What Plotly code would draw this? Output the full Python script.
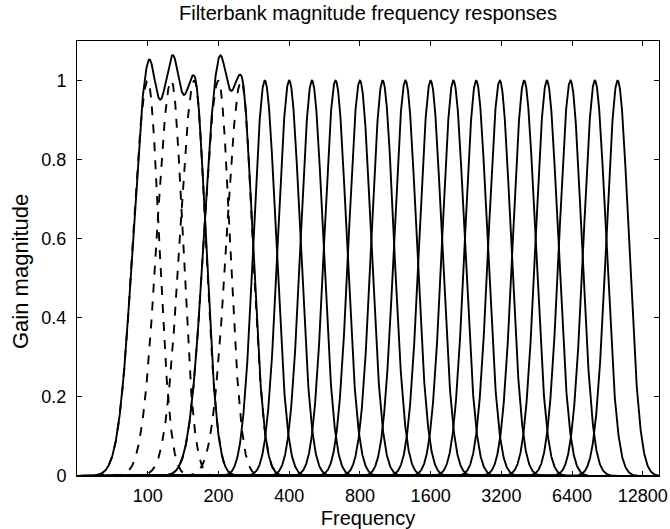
import numpy as np
import plotly.graph_objects as go

# ---- data ----
x_tick_vals = [100, 200, 400, 800, 1600, 3200, 6400, 12800]
x_tick_text = ["100", "200", "400", "800", "1600", "3200", "6400", "12800"]
y_tick_vals = [0, 0.2, 0.4, 0.6, 0.8, 1.0]
y_tick_text = ["0", "0.2", "0.4", "0.6", "0.8", "1"]

# centre frequencies (Hz) of the third-octave filters
group1_centers = [100, 126, 158]          # dashed sub-bands combined into the first solid band
group2_centers = [200, 250]               # dashed sub-bands combined into the second solid band
single_centers = [315, 400, 500, 630, 800, 1000, 1250, 1600, 2000,
                  2500, 3150, 4000, 5000, 6300, 8000, 10000]
sub_band_spread_low = 0.205    # octaves, lower skirt of dashed sub-bands
sub_band_spread_high = 0.16    # octaves, upper skirt of dashed sub-bands
band_spread = 0.157            # octaves, single bands
combine_exponent = 1.85        # how the sub-band magnitudes combine into a band

freq_min, freq_max = 50, 15000

# ---- build curves ----
freq = np.logspace(np.log10(freq_min), np.log10(freq_max), 3000)


def response(fc, s_low, s_high):
    d = np.log2(freq / fc)
    s = np.where(d < 0, s_low, s_high)
    return np.exp(-0.5 * (d / s) ** 2)


def combined(centers):
    p = combine_exponent
    tot = sum(response(c, sub_band_spread_low, sub_band_spread_high) ** p for c in centers)
    return tot ** (1.0 / p)


fig = go.Figure()
line_w = 1.9
for centers in (group1_centers, group2_centers):
    for c in centers:
        fig.add_trace(go.Scatter(x=freq, y=response(c, sub_band_spread_low, sub_band_spread_high),
                                 mode="lines",
                                 line=dict(color="black", width=line_w, dash="9px,9px"),
                                 showlegend=False, hoverinfo="skip"))
for centers in (group1_centers, group2_centers):
    fig.add_trace(go.Scatter(x=freq, y=combined(centers), mode="lines",
                             line=dict(color="black", width=line_w),
                             showlegend=False, hoverinfo="skip"))
for c in single_centers:
    fig.add_trace(go.Scatter(x=freq, y=response(c, band_spread, band_spread), mode="lines",
                             line=dict(color="black", width=line_w),
                             showlegend=False, hoverinfo="skip"))

font_family = "Liberation Sans, Arial, Helvetica, sans-serif"
fig.update_layout(
    width=670, height=529,
    margin=dict(l=77, r=11, t=41, b=53, autoexpand=False),
    paper_bgcolor="white", plot_bgcolor="white",
    font=dict(family=font_family, size=18, color="black"),
    title=dict(text="Filterbank magnitude frequency responses", x=0.5, xref="paper",
               y=1 - 13 / 529, yref="container", yanchor="middle", xanchor="center",
               font=dict(size=20, color="black")),
    xaxis=dict(type="log", range=[np.log10(freq_min), np.log10(freq_max)],
               tickvals=x_tick_vals, ticktext=x_tick_text, automargin=False,
               ticks="inside", ticklen=5, tickcolor="black", tickwidth=1,
               showline=True, linecolor="black", linewidth=1, mirror="ticks",
               showgrid=False, zeroline=False, ticklabelstandoff=3,
               title=dict(text="Frequency", font=dict(size=20), standoff=6)),
    yaxis=dict(range=[0, 1.1], tickvals=y_tick_vals, ticktext=y_tick_text, automargin=False,
               ticks="inside", ticklen=5, tickcolor="black", tickwidth=1,
               showline=True, linecolor="black", linewidth=1, mirror="ticks",
               showgrid=False, zeroline=False, ticklabelstandoff=6),
    annotations=[dict(text="Gain magnitude", textangle=-90, showarrow=False,
                      xref="paper", yref="paper", x=(20 - 77) / 582, y=(476 - 272) / 435,
                      xanchor="center", yanchor="middle", font=dict(size=22))],
)

fig.write_html("out.html")
